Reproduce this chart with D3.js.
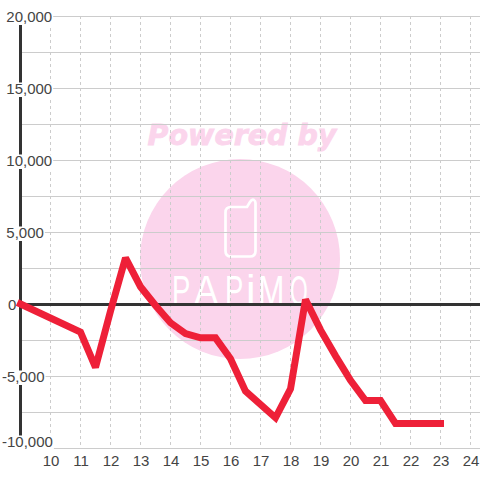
<!DOCTYPE html>
<html><head><meta charset="utf-8"><style>html,body{margin:0;padding:0;background:#fff}svg{display:block}</style>
<script src="https://cdn.jsdelivr.net/npm/d3@7"></script></head><body><svg id="c" width="480" height="480"></svg>
<script>
const xValues=[9,11,11.5,12,12.5,13,13.5,14,14.5,15,15.5,16,16.5,17.5,18,18.5,19,19.5,20,20.5,21,21.5,22,22.5,23];
const yValues=[0,-1950,-4400,-500,3200,1200,-100,-1300,-2050,-2350,-2350,-3800,-6050,-7900,-5900,300,-1800,-3600,-5300,-6700,-6700,-8300,-8300,-8300,-8300];
const xTicks=[10,11,12,13,14,15,16,17,18,19,20,21,22,23,24];
const yLabelled=[20000,15000,10000,5000,0,-5000,-10000];
const yMinor=[17500,12500,7500,2500,-2500,-7500];
const logoLetters=['P','A','P','i','M','O'];
const logoX=[172,194,225,246,258,290];
const logoScale=[.64,.85,.64,1,.74,.53];
const font='"Liberation Sans",Arial,sans-serif';
const svg=d3.select('#c');
const x=d3.scaleLinear().domain([9,24]).range([20.5,470.5]);
const y=d3.scaleLinear().domain([-10000,20000]).range([448,16]);
const pink='#fbd5ec';
svg.append('circle').attr('cx',240).attr('cy',259).attr('r',100).attr('fill',pink);
svg.append('text').attr('x',242).attr('y',145).attr('text-anchor','middle').attr('font-family','"DejaVu Sans",sans-serif')
 .attr('font-weight','bold').attr('font-style','italic').attr('font-size',28.5).attr('fill',pink).attr('stroke',pink).attr('stroke-width',.8).text('Powered by');
svg.append('path').attr('d','M231 207H247L250 202Q252 199 254 200Q255.500 201 255.500 203V251Q255.500 256.500 250 256.500H231Q225.500 256.500 225.500 251V212.500Q225.500 207 231 207Z').attr('fill','none').attr('stroke','#fff').attr('stroke-width',2.7);
svg.append('g').selectAll('text').data(logoLetters).join('text').attr('transform',(d,i)=>`translate(${logoX[i]},305) scale(${logoScale[i]},1)`)
 .attr('font-family','"Liberation Sans",sans-serif').attr('font-size',43).attr('fill','#fff').text(d=>d);
const grid=svg.append('g');
grid.selectAll('line.v').data(xTicks).join('line').attr('x1',d=>x(d)).attr('x2',d=>x(d)).attr('y1',16).attr('y2',448).attr('stroke','#ccc').attr('stroke-dasharray','3 3');
grid.selectAll('line.h').data(yLabelled.concat(yMinor)).join('line').attr('x1',21).attr('x2',480).attr('y1',d=>y(d)+.5).attr('y2',d=>y(d)+.5).attr('stroke','#ccc').attr('stroke-width',1);
svg.append('line').attr('x1',20.5).attr('x2',20.5).attr('y1',y(20000)).attr('y2',448).attr('stroke','#333').attr('stroke-width',3);
svg.append('line').attr('x1',20).attr('x2',480).attr('y1',y(0)+.5).attr('y2',y(0)+.5).attr('stroke','#333').attr('stroke-width',3);
const fmt=v=>d3.format(',')(Math.abs(v));
const labs=svg.append('g');
yLabelled.forEach(v=>{
 const t=(v<0?'-':'')+fmt(v);
 const base=y(v)+(v===-10000?-1:6);
 const lx=v<0?2:(v===0?8:6.3);
 const node=labs.append('text').attr('x',lx).attr('y',base).attr('font-family',font).attr('font-size',15).attr('fill','#444').text(t);
 const w=node.node().getComputedTextLength();
 labs.insert('rect','text:last-of-type').attr('x',lx-1).attr('y',base-11.500).attr('width',w+2).attr('height',14.500).attr('fill','#fff');
});
labs.selectAll('text.x').data(xTicks).join('text').attr('class','x').attr('x',d=>x(d)+.5).attr('y',466).attr('text-anchor','middle').attr('font-family',font).attr('font-size',15).attr('fill','#444').text(d=>d);
const line=d3.line().x((d,i)=>x(xValues[i])).y(d=>y(d));
svg.append('path').attr('d',line(yValues)).attr('fill','none').attr('stroke','#ee2038').attr('stroke-width',7).attr('stroke-linejoin','miter').attr('stroke-miterlimit',2).attr('stroke-linecap','square');
</script></body></html>
